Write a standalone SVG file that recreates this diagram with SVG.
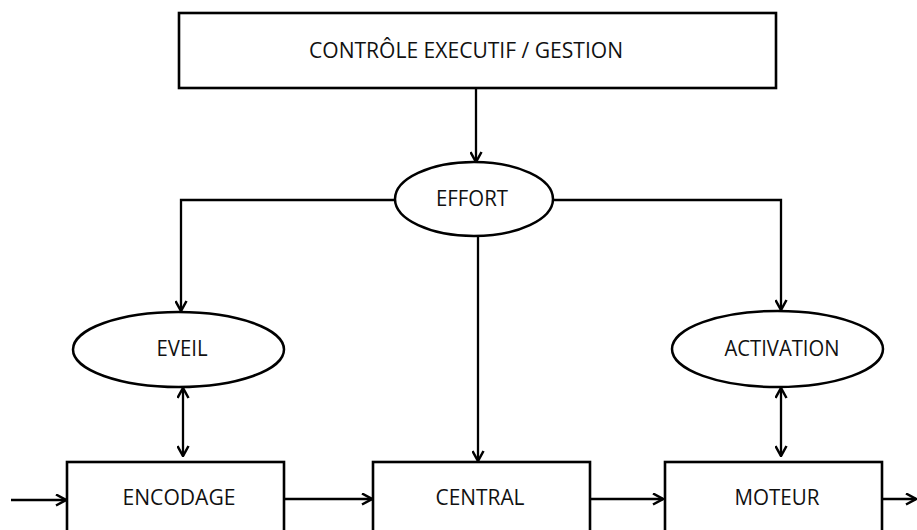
<svg xmlns="http://www.w3.org/2000/svg" width="917" height="530" viewBox="0 0 917 530">
  <style>
    .box { fill: #ffffff; stroke: #000000; stroke-width: 2.6; }
    .oval { fill: #ffffff; stroke: #000000; stroke-width: 2.5; }
    .lbl { font-family: "Open Sans", "Liberation Sans", sans-serif; font-size: 22px; fill: #111111; text-anchor: middle; }
    .wire { fill: none; stroke: #000000; stroke-width: 2.3; }
  </style>
  <defs>
    <marker id="head" viewBox="0 0 13 13" refX="12" refY="6.5" markerWidth="13" markerHeight="13" markerUnits="userSpaceOnUse" orient="auto-start-reverse">
      <path d="M2,1 L12,6.5 L2,12" fill="none" stroke="#000000" stroke-width="2.5" stroke-linejoin="miter"/>
    </marker>
  </defs>

  <g id="connectors">
    <!-- executive control to effort -->
    <line class="wire" x1="476" y1="88" x2="476" y2="162" marker-end="url(#head)"/>
    <!-- effort branches -->
    <polyline class="wire" points="395,200 181,200 181,311" marker-end="url(#head)"/>
    <polyline class="wire" points="553,200 781,200 781,310" marker-end="url(#head)"/>
    <line class="wire" x1="478" y1="237" x2="478" y2="461" marker-end="url(#head)"/>
    <!-- two-way links -->
    <line class="wire" x1="183" y1="388" x2="183" y2="456" marker-start="url(#head)" marker-end="url(#head)"/>
    <line class="wire" x1="781" y1="388" x2="781" y2="456" marker-start="url(#head)" marker-end="url(#head)"/>
    <!-- processing chain -->
    <line class="wire" x1="11" y1="500" x2="66" y2="500" marker-end="url(#head)"/>
    <line class="wire" x1="284" y1="499" x2="372" y2="499" marker-end="url(#head)"/>
    <line class="wire" x1="590" y1="499" x2="663" y2="499" marker-end="url(#head)"/>
    <line class="wire" x1="882" y1="499" x2="916" y2="499" marker-end="url(#head)"/>
  </g>

  <g id="controle">
    <rect class="box" x="179" y="13" width="597" height="75"/>
    <text class="lbl" x="466" y="58" textLength="314" lengthAdjust="spacingAndGlyphs">CONTRÔLE EXECUTIF / GESTION</text>
  </g>

  <g id="effort">
    <ellipse class="oval" cx="474" cy="199" rx="79" ry="37"/>
    <text class="lbl" x="472" y="206" textLength="72" lengthAdjust="spacingAndGlyphs">EFFORT</text>
  </g>

  <g id="eveil">
    <ellipse class="oval" cx="178.5" cy="349.5" rx="105.5" ry="37.5"/>
    <text class="lbl" x="182" y="356" textLength="51" lengthAdjust="spacingAndGlyphs">EVEIL</text>
  </g>

  <g id="activation">
    <ellipse class="oval" cx="777.5" cy="349" rx="105.5" ry="38"/>
    <text class="lbl" x="782" y="356" textLength="115" lengthAdjust="spacingAndGlyphs">ACTIVATION</text>
  </g>

  <g id="encodage">
    <rect class="box" x="67" y="462" width="217" height="80"/>
    <text class="lbl" x="179" y="505" textLength="113" lengthAdjust="spacingAndGlyphs">ENCODAGE</text>
  </g>

  <g id="central">
    <rect class="box" x="373" y="462" width="217" height="80"/>
    <text class="lbl" x="480" y="505" textLength="89" lengthAdjust="spacingAndGlyphs">CENTRAL</text>
  </g>

  <g id="moteur">
    <rect class="box" x="665" y="462" width="217" height="80"/>
    <text class="lbl" x="777" y="505" textLength="85" lengthAdjust="spacingAndGlyphs">MOTEUR</text>
  </g>
</svg>
